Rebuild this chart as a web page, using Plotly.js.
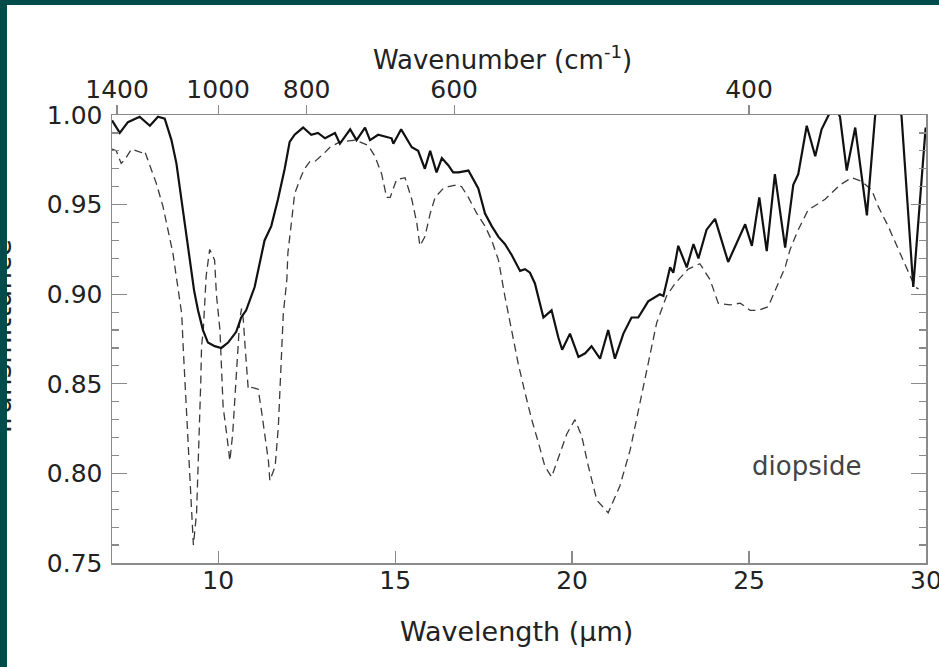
<!DOCTYPE html>
<html>
<head>
<meta charset="utf-8">
<script src="https://cdn.plot.ly/plotly-3.0.1.min.js"></script>
<style>
  html, body { margin: 0; padding: 0; background: #004c4a; width: 939px; height: 667px; overflow: hidden; }
  #wrap { position: absolute; left: 7px; top: 5px; width: 932px; height: 662px; overflow: hidden; background: #ffffff; }
  #chart { width: 932px; height: 662px; }
</style>
</head>
<body>
<div id="wrap"><div id="chart"></div></div>
<script>
// Wavelength (micron) and transmittance
const solidX = [7.00,7.22,7.45,7.78,8.07,8.30,8.49,8.68,8.82,8.96,9.10,9.20,9.32,9.43,9.57,9.71,9.90,10.09,10.28,10.51,10.65,10.79,11.03,11.31,11.50,11.69,11.88,12.02,12.16,12.40,12.63,12.82,13.02,13.30,13.44,13.73,13.91,14.15,14.29,14.52,14.90,14.95,15.17,15.47,15.65,15.84,15.99,16.17,16.32,16.50,16.64,16.79,17.07,17.35,17.54,17.73,17.92,18.10,18.29,18.53,18.67,18.81,18.95,19.19,19.42,19.61,19.72,19.94,20.18,20.37,20.55,20.79,21.02,21.21,21.45,21.68,21.87,22.15,22.48,22.58,22.77,22.86,23.00,23.24,23.43,23.57,23.80,24.04,24.41,24.89,25.08,25.29,25.50,25.73,26.02,26.25,26.39,26.63,26.87,27.05,27.24,27.40,27.57,27.76,28.00,28.33,28.56,28.90,29.31,29.64,29.99];
const solidY = [0.997,0.990,0.996,0.999,0.994,0.999,0.998,0.986,0.973,0.953,0.936,0.919,0.902,0.891,0.880,0.873,0.871,0.870,0.873,0.879,0.887,0.891,0.904,0.930,0.938,0.953,0.970,0.985,0.989,0.993,0.989,0.990,0.987,0.990,0.984,0.992,0.986,0.993,0.986,0.989,0.987,0.984,0.992,0.982,0.980,0.970,0.980,0.968,0.976,0.972,0.968,0.968,0.969,0.959,0.945,0.938,0.932,0.928,0.922,0.913,0.914,0.912,0.906,0.887,0.891,0.876,0.869,0.878,0.865,0.867,0.871,0.864,0.880,0.864,0.878,0.887,0.887,0.896,0.900,0.899,0.915,0.912,0.927,0.915,0.928,0.920,0.936,0.942,0.918,0.939,0.927,0.954,0.924,0.967,0.926,0.961,0.967,0.994,0.977,0.992,0.999,1.006,0.999,0.969,0.993,0.944,0.999,1.050,0.999,0.904,0.993];

const dashX = [7.00,7.12,7.26,7.36,7.55,7.83,7.92,8.07,8.25,8.44,8.58,8.72,8.86,8.97,9.01,9.06,9.11,9.16,9.18,9.22,9.25,9.30,9.39,9.44,9.49,9.51,9.53,9.58,9.66,9.76,9.90,9.95,10.05,10.10,10.14,10.24,10.33,10.41,10.48,10.54,10.61,10.66,10.71,10.76,10.81,10.85,10.95,11.13,11.23,11.32,11.42,11.46,11.61,11.70,11.75,11.79,11.84,11.94,11.97,12.07,12.16,12.35,12.44,12.59,12.73,12.96,13.16,13.44,13.87,14.24,14.43,14.62,14.76,14.86,15.04,15.28,15.47,15.61,15.70,15.84,15.99,16.13,16.36,16.50,16.74,16.88,17.07,17.31,17.54,17.73,17.92,18.10,18.29,18.48,18.67,18.86,19.05,19.23,19.42,19.66,19.85,20.08,20.27,20.46,20.70,21.02,21.35,21.64,21.92,22.15,22.39,22.67,22.91,23.28,23.61,23.90,24.13,24.46,24.75,25.03,25.26,25.54,25.73,26.02,26.16,26.39,26.67,27.15,27.57,27.90,28.18,28.47,28.65,28.93,29.22,29.50,29.69,29.79];
const dashY = [0.981,0.980,0.973,0.975,0.981,0.979,0.980,0.972,0.962,0.949,0.936,0.923,0.904,0.889,0.871,0.852,0.834,0.815,0.800,0.787,0.774,0.760,0.778,0.806,0.834,0.852,0.871,0.880,0.910,0.925,0.919,0.900,0.880,0.858,0.837,0.822,0.807,0.822,0.845,0.867,0.886,0.892,0.886,0.871,0.858,0.847,0.848,0.847,0.834,0.822,0.807,0.796,0.804,0.826,0.848,0.871,0.889,0.908,0.923,0.940,0.956,0.966,0.970,0.974,0.974,0.978,0.982,0.985,0.986,0.983,0.977,0.967,0.954,0.954,0.964,0.965,0.953,0.940,0.927,0.932,0.945,0.954,0.959,0.960,0.961,0.960,0.954,0.945,0.938,0.930,0.919,0.899,0.880,0.861,0.845,0.830,0.817,0.804,0.798,0.811,0.822,0.830,0.821,0.804,0.785,0.778,0.793,0.813,0.839,0.861,0.884,0.899,0.906,0.914,0.917,0.908,0.895,0.894,0.895,0.891,0.891,0.893,0.902,0.915,0.925,0.936,0.947,0.953,0.961,0.965,0.963,0.958,0.949,0.938,0.925,0.912,0.904,0.903];

// Axis ticks
const wavelengthTicks = [10, 15, 20, 25, 30];
const wavenumberTicks = [1400, 1000, 800, 600, 400];
const wavenumberTickText = ['1400', '1000', '800', '600', '400'];
const yTicks = [0.75, 0.80, 0.85, 0.90, 0.95, 1.00];

const FONT = 'DejaVu Sans, Verdana, sans-serif';
const AXC = '#8a8a8a';
const TXT = '#222222';

const traces = [
  { x: dashX, y: dashY, type: 'scatter', mode: 'lines', name: 'dashed',
    line: { color: '#3a3a3a', width: 1.3, dash: '8px,5px' }, hoverinfo: 'skip' },
  { x: solidX, y: solidY, type: 'scatter', mode: 'lines', name: 'solid',
    line: { color: '#111111', width: 2.2 }, hoverinfo: 'skip' },
  { x: [7, 30], y: [null, null], xaxis: 'x2', type: 'scatter', mode: 'lines',
    showlegend: false, hoverinfo: 'skip' }
];

const layout = {
  width: 932, height: 662,
  margin: { l: 105, r: 13, t: 110, b: 104, pad: 0 },
  paper_bgcolor: '#ffffff', plot_bgcolor: '#ffffff',
  showlegend: false,
  font: { family: FONT, size: 25, color: TXT },
  xaxis: {
    range: [7, 30], tickmode: 'array', tickvals: wavelengthTicks,
    ticks: 'inside', ticklen: 12, tickwidth: 1.2, tickcolor: AXC,
    showline: true, linecolor: AXC, linewidth: 1.5, mirror: false,
    showgrid: false, zeroline: false, ticklabelstandoff: -6,
    ticklabeloverflow: 'allow',
    tickfont: { family: FONT, size: 25, color: TXT }
  },
  xaxis2: {
    overlaying: 'x', side: 'top', anchor: 'y', range: [7, 30],
    tickmode: 'array',
    tickvals: wavenumberTicks.map(w => 10000 / w),
    ticktext: wavenumberTickText,
    ticks: 'outside', ticklen: 9, tickwidth: 1.2, tickcolor: AXC,
    showline: true, linecolor: AXC, linewidth: 1.5,
    showgrid: false, zeroline: false, ticklabelstandoff: -3,
    ticklabeloverflow: 'allow',
    tickfont: { family: FONT, size: 25, color: TXT }
  },
  yaxis: {
    range: [0.75, 1.0], tickmode: 'array', tickvals: yTicks, tickformat: '.2f',
    ticks: 'inside', ticklen: 15, tickwidth: 1.2, tickcolor: AXC,
    minor: { dtick: 0.01, ticks: 'inside', ticklen: 7, tickwidth: 1.2, tickcolor: AXC, showgrid: false },
    showline: true, linecolor: AXC, linewidth: 1.5, mirror: 'ticks',
    showgrid: false, zeroline: false, ticklabelstandoff: 3,
    ticklabeloverflow: 'allow',
    tickfont: { family: FONT, size: 25, color: TXT }
  },
  annotations: [
    { text: 'Wavelength (\u00b5m)', xref: 'paper', yref: 'paper', x: 0.4975, y: -0.154,
      xanchor: 'center', yanchor: 'middle', showarrow: false,
      font: { family: FONT, size: 27, color: TXT } },
    { text: 'Wavenumber (cm<sup>-1</sup>)', xref: 'paper', yref: 'paper', x: 0.4803, y: 1.127,
      xanchor: 'center', yanchor: 'middle', showarrow: false,
      font: { family: FONT, size: 26, color: TXT } },
    { text: 'Transmittance', xref: 'paper', yref: 'paper', x: -0.1367, y: 0.5,
      xanchor: 'center', yanchor: 'middle', textangle: -90, showarrow: false,
      font: { family: FONT, size: 28, color: TXT } },
    { text: 'diopside', xref: 'x', yref: 'y', x: 26.61, y: 0.804,
      xanchor: 'center', yanchor: 'middle', showarrow: false,
      font: { family: FONT, size: 26, color: '#444444' } }
  ]
};

Plotly.newPlot('chart', traces, layout, { staticPlot: true, displayModeBar: false });
</script>
</body>
</html>
